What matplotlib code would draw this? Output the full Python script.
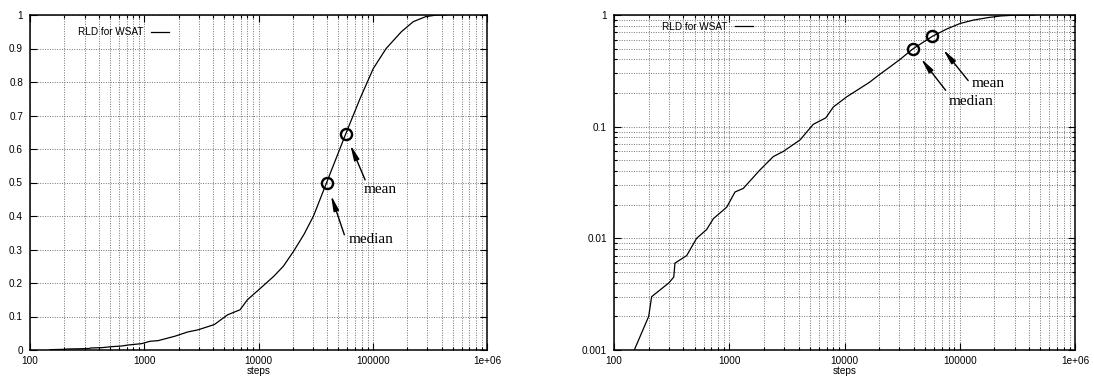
import math
import matplotlib
matplotlib.use("Agg")
import matplotlib.pyplot as plt
from matplotlib.ticker import LogLocator, NullFormatter

# run-length distribution of WSAT: steps vs. fraction of solved runs
steps = [150, 200, 212, 300, 330, 338, 427, 521, 637, 728, 950, 1122, 1324,
         1848, 2412, 2944, 4110, 5360, 6890, 8000, 10450, 13600, 16500,
         20300, 25000, 30300, 39500, 58000, 77300, 101000, 131000, 178000,
         226000, 290000, 363000, 444000]
solved = [0.001, 0.002, 0.003, 0.004, 0.0045, 0.006, 0.007, 0.010, 0.012,
          0.015, 0.019, 0.026, 0.028, 0.041, 0.054, 0.060, 0.076, 0.105,
          0.12, 0.15, 0.185, 0.22, 0.25, 0.295, 0.345, 0.40, 0.50, 0.645,
          0.75, 0.84, 0.90, 0.95, 0.98, 0.995, 1.0, 1.0]

median_steps, median_val = 39500, 0.50
mean_steps, mean_val = 58000, 0.645

x_ticks = [100, 1000, 10000, 100000, 1000000]
x_labels = ["100", "1000", "10000", "100000", "1e+06"]
lin_ticks = [0, 0.1, 0.2, 0.3, 0.4, 0.5, 0.6, 0.7, 0.8, 0.9, 1]
lin_labels = ["0", "0.1", "0.2", "0.3", "0.4", "0.5", "0.6", "0.7", "0.8",
              "0.9", "1"]
log_ticks = [0.001, 0.01, 0.1, 1]
log_labels = ["0.001", "0.01", "0.1", "1"]

SANS = "Liberation Sans"
SERIF = "Liberation Serif"
PX = 0.72  # points per pixel at 100 dpi

W, H = 1094, 381
fig = plt.figure(figsize=(W / 100, H / 100), dpi=100)
ax1 = fig.add_axes([30 / W, 31 / H, 457 / W, 335 / H])
ax2 = fig.add_axes([614 / W, 31 / H, 461 / W, 335 / H])


def mark(ax, x, y, label, text_off, tail_off, head_off):
    """circle a point and point at it with a labelled arrow (offsets in px)"""
    ax.plot(x, y, "o", ms=8, mfc="none", mec="k", mew=1.7, zorder=5)
    shrink = math.hypot(*head_off) * PX
    ax.annotate("", xy=(x, y),
                xytext=(tail_off[0] * PX, -tail_off[1] * PX),
                textcoords="offset points",
                arrowprops=dict(arrowstyle="-|>,head_length=0.9,head_width=0.16",
                                color="k", lw=1.0, shrinkA=0, shrinkB=shrink))
    ax.annotate(label, xy=(x, y),
                xytext=(text_off[0] * PX, -text_off[1] * PX),
                textcoords="offset points", ha="left", va="center",
                fontsize=11, family=SERIF)


def style(ax, legend_pos):
    ax.set_xscale("log")
    ax.set_xlim(100, 1e6)
    ax.set_xticks(x_ticks, x_labels)
    ax.xaxis.set_minor_locator(LogLocator(base=10, subs=range(2, 10)))
    ax.xaxis.set_minor_formatter(NullFormatter())
    ax.grid(True, which="both", linestyle=(0, (1, 1.5)), linewidth=0.7,
            color="0.45")
    ax.set_axisbelow(True)
    ax.tick_params(which="both", direction="in", top=True, right=True,
                   labelsize=7.2, width=0.8)
    ax.tick_params(which="major", length=5)
    ax.tick_params(which="minor", length=2.5)
    ax.tick_params(axis="x", pad=4)
    ax.tick_params(axis="y", pad=5)
    for lbl in ax.get_xticklabels() + ax.get_yticklabels():
        lbl.set_family(SANS)
    for sp in ax.spines.values():
        sp.set_linewidth(1.1)
    ax.set_xlabel("steps", fontsize=7.2, family=SANS, labelpad=0)
    ax.legend(loc="center left", bbox_to_anchor=legend_pos, frameon=False,
              markerfirst=False, handlelength=1.8, handletextpad=0.75,
              borderpad=0, borderaxespad=0,
              prop=dict(family=SANS, size=7.2))


# linear y axis
ax1.plot(steps, solved, color="k", lw=0.9, label="RLD for WSAT")
ax1.set_ylim(0, 1)
ax1.set_yticks(lin_ticks, lin_labels)
style(ax1, (0.105, 0.948))
mark(ax1, median_steps, median_val, "median", (21.7, 56.6), (17.7, 52.3),
     (5.7, 12.3))
mark(ax1, mean_steps, mean_val, "mean", (18.4, 56), (19.4, 46), (7.4, 9.3))

# logarithmic y axis
ax2.plot(steps, solved, color="k", lw=0.9, label="RLD for WSAT")
ax2.set_yscale("log")
ax2.set_ylim(0.001, 1)
ax2.set_yticks(log_ticks, log_labels)
ax2.yaxis.set_minor_locator(LogLocator(base=10, subs=range(2, 10)))
ax2.yaxis.set_minor_formatter(NullFormatter())
style(ax2, (0.1035, 0.965))
mark(ax2, median_steps, median_val, "median", (35.7, 52.4), (32.4, 41.7),
     (8.4, 9.4))
mark(ax2, mean_steps, mean_val, "mean", (39, 47.7), (35.7, 44.3),
     (12.4, 11.7))

fig.savefig("out.png", dpi=100)
